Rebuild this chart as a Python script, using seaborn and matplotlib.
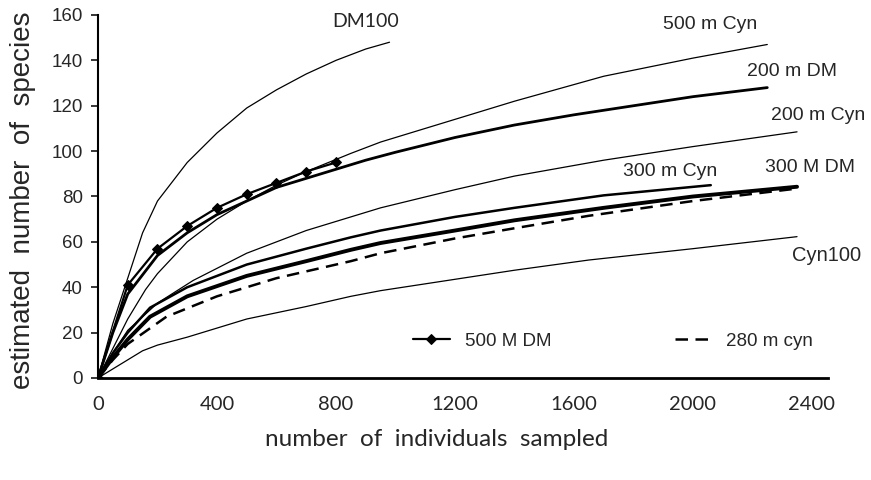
import matplotlib.pyplot as plt
import seaborn as sns

# species accumulation curves
dm100_x = [0, 25, 50, 100, 150, 200, 300, 400, 500, 600, 700, 800, 900, 980]
dm100_y = [0, 12, 24, 44, 64, 78, 95, 108, 119, 127, 134, 140, 145, 148]

dm500_x = [0, 100, 200, 300, 400, 500, 600, 700, 800]
dm500_y = [0, 41, 57, 67, 75, 81, 86, 91, 95]

dm200_x = [0, 50, 100, 200, 300, 400, 500, 600, 700, 800, 900, 1000, 1200, 1400, 1600, 1800, 2000, 2250]
dm200_y = [0, 20, 37, 54, 64, 72, 78, 84, 88, 92, 96, 99.5, 106, 111.5, 116, 120, 124, 128]

cyn500_x = [0, 50, 100, 160, 200, 300, 400, 500, 600, 700, 850, 950, 1200, 1400, 1700, 2000, 2250]
cyn500_y = [0, 13, 26, 39, 46, 60, 70, 78, 85, 91, 99, 104, 114, 122, 133, 141, 147]

cyn200_x = [0, 50, 100, 200, 320, 500, 700, 850, 950, 1200, 1400, 1700, 2000, 2350]
cyn200_y = [0, 11, 21, 33, 43, 55, 65, 71, 75, 83, 89, 96, 102, 108.5]

cyn300_x = [0, 50, 100, 175, 300, 500, 700, 850, 950, 1200, 1400, 1700, 2060]
cyn300_y = [0, 11, 20, 31, 40, 50, 57, 62, 65, 71, 75, 80.5, 85]

dm300_x = [0, 50, 100, 175, 300, 500, 700, 850, 950, 1200, 1400, 1700, 2000, 2350]
dm300_y = [0, 9, 17, 27, 36, 45, 51.5, 56.5, 59.5, 65, 69.5, 75, 80, 84.3]

cyn280_x = [0, 50, 100, 230, 400, 600, 850, 950, 1200, 1400, 1650, 2000, 2350]
cyn280_y = [0, 8, 15, 27, 36, 44, 51.5, 55, 61.5, 66, 71.5, 78, 83.5]

cyn100_x = [0, 50, 100, 150, 200, 300, 500, 700, 850, 950, 1200, 1400, 1650, 2000, 2350]
cyn100_y = [0, 4, 8, 12, 14.5, 18, 26, 31.5, 36, 38.5, 43.5, 47.5, 52, 57, 62.3]

x_ticks = [0, 400, 800, 1200, 1600, 2000, 2400]
y_ticks = [0, 20, 40, 60, 80, 100, 120, 140, 160]

sns.set_style('white')
plt.rcParams['font.family'] = ['Liberation Sans', 'DejaVu Sans']
gill = ['Lato', 'DejaVu Sans']

fig = plt.figure(figsize=(8.71, 4.8), dpi=100)
ax = fig.add_axes([0.1125, 0.2125, 0.8381, 0.75625])

thin = dict(color='black', lw=0.9)
sns.lineplot(x=dm100_x, y=dm100_y, ax=ax, errorbar=None, **thin)
sns.lineplot(x=cyn500_x, y=cyn500_y, ax=ax, errorbar=None, **thin)
sns.lineplot(x=cyn200_x, y=cyn200_y, ax=ax, errorbar=None, **thin)
sns.lineplot(x=cyn100_x, y=cyn100_y, ax=ax, errorbar=None, **thin)
sns.lineplot(x=cyn300_x, y=cyn300_y, ax=ax, errorbar=None, color='black', lw=1.8)
sns.lineplot(x=dm300_x, y=dm300_y, ax=ax, errorbar=None, color='black', lw=2.8)
sns.lineplot(x=dm200_x, y=dm200_y, ax=ax, errorbar=None, color='black', lw=2.0)
sns.lineplot(x=cyn280_x, y=cyn280_y, ax=ax, errorbar=None, color='black', lw=1.8,
             linestyle=(0, (5, 3)), label='280 m cyn')
sns.lineplot(x=dm500_x, y=dm500_y, ax=ax, errorbar=None, color='black', lw=1.6,
             marker='D', markersize=5, mec='black', mfc='black', label='500 M DM')

ax.set_xlim(0, 2454)
ax.set_ylim(0, 160)
ax.set_xticks(x_ticks)
ax.set_yticks(y_ticks)
ax.set_xticklabels([str(v) for v in x_ticks], family=gill, fontsize=14.5)
ax.tick_params(axis='x', length=0, pad=13)
ax.tick_params(axis='y', length=5, width=1.3, pad=6, labelsize=13.5, direction='out', left=True)

for s in ['top', 'right']:
    ax.spines[s].set_visible(False)
ax.spines['left'].set_linewidth(1.5)
ax.spines['bottom'].set_linewidth(2)
ax.spines['left'].set_color('black')
ax.spines['bottom'].set_color('black')

ax.set_ylabel('estimated  number  of  species', fontsize=20)
ax.yaxis.set_label_coords(-0.085, 0.49)
ax.set_xlabel('number  of  individuals  sampled', fontsize=17.5, family=gill)
ax.xaxis.set_label_coords(0.464, -0.14)

# curve labels
ax.text(901, 157.3, 'DM100', fontsize=14, family=gill, ha='center', va='center')
ax.text(2057, 155.6, '500 m Cyn', fontsize=14, ha='center', va='center')
ax.text(2333, 134.9, '200 m DM', fontsize=14, ha='center', va='center')
ax.text(2420, 115.9, '200 m Cyn', fontsize=14, ha='center', va='center')
ax.text(1923, 90.8, '300 m Cyn', fontsize=14, ha='center', va='center')
ax.text(2393, 93.0, '300 M DM', fontsize=14, ha='center', va='center')
ax.text(2450, 54.2, 'Cyn100', fontsize=14.5, ha='center', va='center')

handles, labels = ax.get_legend_handles_labels()
order = [labels.index('500 M DM'), labels.index('280 m cyn')]
ax.legend([handles[i] for i in order], [labels[i] for i in order],
          loc='center left', bbox_to_anchor=(0.4315, 0.102), ncol=2,
          frameon=False, fontsize=13.5, borderpad=0, borderaxespad=0,
          handlelength=1.95, handletextpad=0.8, columnspacing=6.6, numpoints=1)

fig.savefig('out.png', dpi=100)
